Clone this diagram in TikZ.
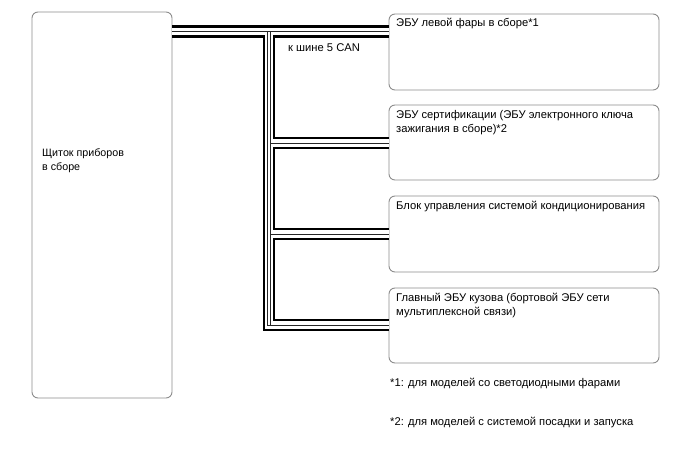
\documentclass[tikz,border=0pt]{standalone}
\usepackage{fontspec}
\setmainfont{Liberation Sans}
\begin{document}
\begin{tikzpicture}[x=1pt,y=-1pt,
  box/.style={draw=black!45,line width=0.9pt,rounded corners=6pt,minimum width=270pt,minimum height=76pt,inner sep=0pt},
  lbl/.style={anchor=north west,inner sep=0pt,align=left,font=\fontsize{11.2}{14}\selectfont},
  busouter/.style={line width=12.5pt,black,line join=miter},
  businner/.style={line width=7.5pt,white,line join=miter},
  buscore/.style={line width=0.8pt,black!85},
]
\useasboundingbox (0,0) rectangle (688,463);
% boxes
\node[box,minimum width=140pt,minimum height=386pt] (cl) at (102,205) {};
\node[box] (b1) at (524,52) {};
\node[box,minimum height=75pt] (b2) at (524,142.5) {};
\node[box] (b3) at (524,234) {};
\node[box,minimum height=75pt] (b4) at (524,325.5) {};
% labels
\node[lbl,font=\fontsize{10.7}{14}\selectfont] (tcl) at (42,148) {Щиток приборов\\в сборе};
\node[lbl] (t1) at (396,18) {ЭБУ левой фары в сборе*1};
\node[lbl] (t2) at (396,110) {ЭБУ сертификации (ЭБУ электронного ключа\\зажигания в сборе)*2};
\node[lbl] (t3) at (396,201) {Блок управления системой кондиционирования};
\node[lbl] (t4) at (396,293) {Главный ЭБУ кузова (бортовой ЭБУ сети\\мультиплексной связи)};
\node[lbl] (can) at (288,43) {к шине 5 CAN};
\node[lbl] (f1) at (390,378) {*1: для моделей со светодиодными фарами};
\node[lbl] (f2) at (390,417) {*2: для моделей с системой посадки и запуска};
% junctions
\coordinate (j1) at (269,31.5);
\coordinate (j2) at (269,143);
\coordinate (j3) at (269,234);
\coordinate (j4) at (269,325);
% bus: outer
\draw[busouter] (cl.east |- j1) -- (b1.west |- j1);
\draw[busouter] (j1) -- (j4) -- (b4.west |- j4);
\draw[busouter] (j2) -- (b2.west |- j2);
\draw[busouter] (j3) -- (b3.west |- j3);
% bus: inner
\draw[businner] (cl.east |- j1) -- (b1.west |- j1);
\draw[businner] (j1) -- (j4) -- (b4.west |- j4);
\draw[businner] (j2) -- (b2.west |- j2);
\draw[businner] (j3) -- (b3.west |- j3);
% bus: cores
\draw[buscore] (cl.east |- j1) -- (b1.west |- j1);
\draw[buscore] ([xshift=-1.6pt]j1) -- ([xshift=-1.6pt]j4) -- (b4.west |- j4);
\draw[buscore] ([xshift=1.6pt]j1) -- ([xshift=1.6pt]j4);
\draw[buscore] ([xshift=1.6pt]j2) -- (b2.west |- j2);
\draw[buscore] ([xshift=1.6pt]j3) -- (b3.west |- j3);
\end{tikzpicture}
\end{document}
